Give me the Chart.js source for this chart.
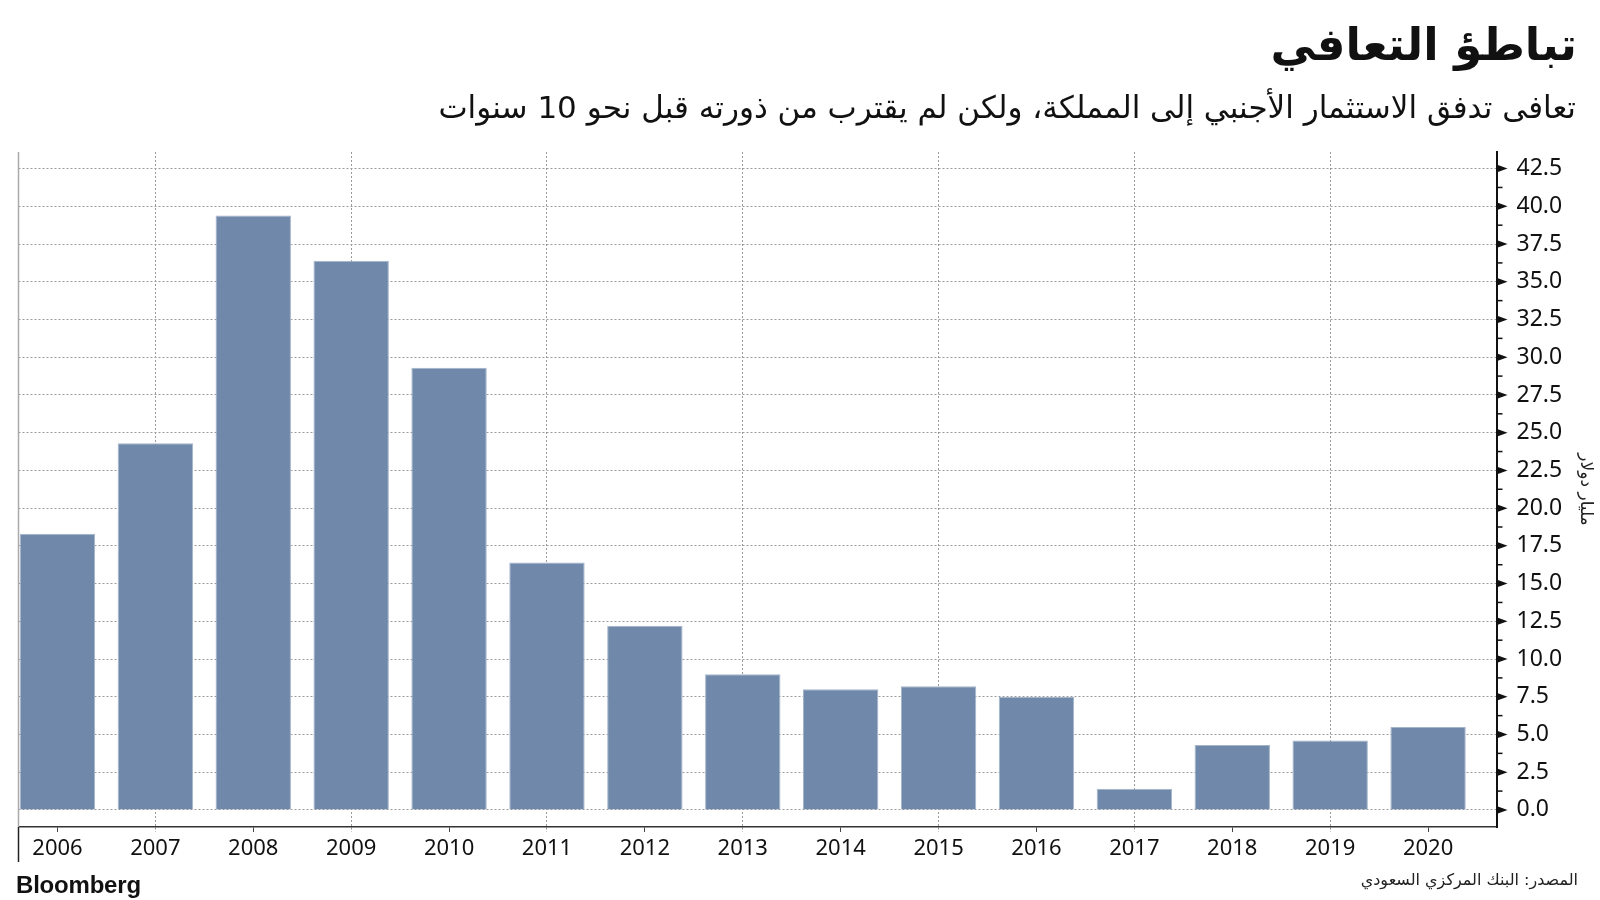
<!DOCTYPE html>
<html lang="ar">
<head>
<meta charset="utf-8">
<script src="https://cdn.jsdelivr.net/npm/chart.js@4.4.1/dist/chart.umd.min.js"></script>
<style>
  body { margin: 0; background: #fff; }
  #wrap { position: relative; width: 1600px; height: 900px; overflow: hidden; }
  canvas { position: absolute; left: 0; top: 0; }
  .ar { font-family: "DejaVu Sans", sans-serif; direction: rtl; position: absolute; color: #111; white-space: nowrap; line-height: 1; }
  #title { right: 23px; top: 22px; font-size: 45px; font-weight: bold; }
  #subtitle { right: 24px; top: 92px; font-size: 31px; }
  #source { right: 22px; top: 872px; font-size: 16px; color: #222; }
  #logo { position: absolute; left: 16px; top: 873px; font-family: "Liberation Sans", Arial, sans-serif; font-weight: bold; font-size: 24px; line-height: 1; color: #111; letter-spacing: -0.2px; }
</style>
</head>
<body>
<div id="wrap">
  <canvas id="chart" width="1600" height="900"></canvas>
  <div class="ar" id="title">تباطؤ التعافي</div>
  <div class="ar" id="subtitle">تعافى تدفق الاستثمار الأجنبي إلى المملكة، ولكن لم يقترب من ذورته قبل نحو 10 سنوات</div>
  <div class="ar" id="source">المصدر: البنك المركزي السعودي</div>
  <div id="logo">Bloomberg</div>
</div>
<script>
// السنوات والقيم (مليار دولار)
const years = ["2006", "2007", "2008", "2009", "2010", "2011", "2012", "2013",
  "2014", "2015", "2016", "2017", "2018", "2019", "2020"];
const inflows = [18.3, 24.3, 39.4, 36.4, 29.3, 16.4, 12.2, 9.0, 8.0, 8.2, 7.5, 1.4, 4.3, 4.6, 5.5];
const yTicks = [0, 2.5, 5, 7.5, 10, 12.5, 15, 17.5, 20, 22.5, 25, 27.5, 30, 32.5, 35, 37.5, 40, 42.5];

// محور y: مثلثات عند العلامات الرئيسية وعلامات صغيرة بينها
const axisMarks = {
  id: "axisMarks",
  afterDraw(chart) {
    const { ctx, chartArea } = chart;
    const y = chart.scales.y;
    const x0 = chartArea.right;
    ctx.save();
    ctx.fillStyle = "#111";
    ctx.strokeStyle = "#111";
    ctx.lineWidth = 1.5;
    yTicks.forEach((v, i) => {
      const py = y.getPixelForValue(v);
      ctx.beginPath();
      ctx.moveTo(x0, py - 4);
      ctx.lineTo(x0 + 11, py);
      ctx.lineTo(x0, py + 4);
      ctx.closePath();
      ctx.fill();
      if (i < yTicks.length - 1) {
        const my = y.getPixelForValue((v + yTicks[i + 1]) / 2);
        ctx.beginPath();
        ctx.moveTo(x0, my);
        ctx.lineTo(x0 + 6, my);
        ctx.stroke();
      }
    });
    // الخط الأيسر
    ctx.strokeStyle = "#aaa";
    ctx.beginPath();
    ctx.moveTo(chartArea.left, chartArea.top);
    ctx.lineTo(chartArea.left, chartArea.bottom);
    ctx.stroke();
    ctx.strokeStyle = "#222";
    ctx.beginPath();
    ctx.moveTo(chartArea.left, chartArea.bottom);
    ctx.lineTo(chartArea.left, chartArea.bottom + 35);
    ctx.stroke();
    ctx.restore();
  },
};

new Chart(document.getElementById("chart"), {
  type: "bar",
  data: {
    datasets: [
      {
        data: inflows.map((v, i) => ({ x: i, y: v })),
        backgroundColor: "#7088a9",
        borderColor: "#a4b5cb",
        borderWidth: 1,
        categoryPercentage: 0.77,
        barPercentage: 1,
      },
    ],
  },
  options: {
    responsive: false,
    animation: false,
    devicePixelRatio: 1,
    layout: { padding: { left: 18.5, top: 152, right: 0, bottom: 0 } },
    plugins: { legend: { display: false }, tooltip: { enabled: false } },
    scales: {
      x: {
        type: "linear",
        offset: false,
        min: -0.398,
        max: 14.699,
        afterBuildTicks: (scale) => {
          scale.ticks = years.map((_, i) => ({ value: i }));
        },
        afterFit: (scale) => {
          scale.height = 73;
        },
        ticks: {
          autoSkip: false,
          maxRotation: 0,
          padding: 4,
          color: "#111",
          font: { family: "Noto Sans", size: 22 },
          callback: (v) => years[v],
        },
        grid: {
          offset: false,
          color: (c) => (c.index % 2 === 1 ? "#9a9a9a" : "rgba(0,0,0,0)"),
          lineWidth: 1,
          tickLength: 5,
          tickColor: (c) => (c.index % 2 === 1 ? "#9a9a9a" : "#444"),
          tickBorderDash: (c) => (c.index % 2 === 1 ? [2, 2] : []),
        },
        border: { display: true, color: "#333", width: 1.5, dash: [2, 2] },
      },
      y: {
        position: "right",
        min: -1.13,
        max: 43.6,
        afterBuildTicks: (scale) => {
          scale.ticks = yTicks.map((v) => ({ value: v }));
        },
        afterFit: (scale) => {
          scale.width = 103.5;
        },
        ticks: {
          padding: 20,
          color: "#111",
          font: { family: "Noto Sans", size: 23 },
          callback: (v) => Number(v).toFixed(1),
        },
        grid: { color: "#9a9a9a", lineWidth: 1, drawTicks: false },
        border: { display: true, color: "#111", width: 2, dash: [2, 2] },
        title: {
          display: true,
          text: "مليار دولار",
          color: "#222",
          font: { family: "DejaVu Sans", size: 17 },
          padding: { top: 4, bottom: 4 },
        },
      },
    },
  },
  plugins: [axisMarks],
});
</script>
</body>
</html>
